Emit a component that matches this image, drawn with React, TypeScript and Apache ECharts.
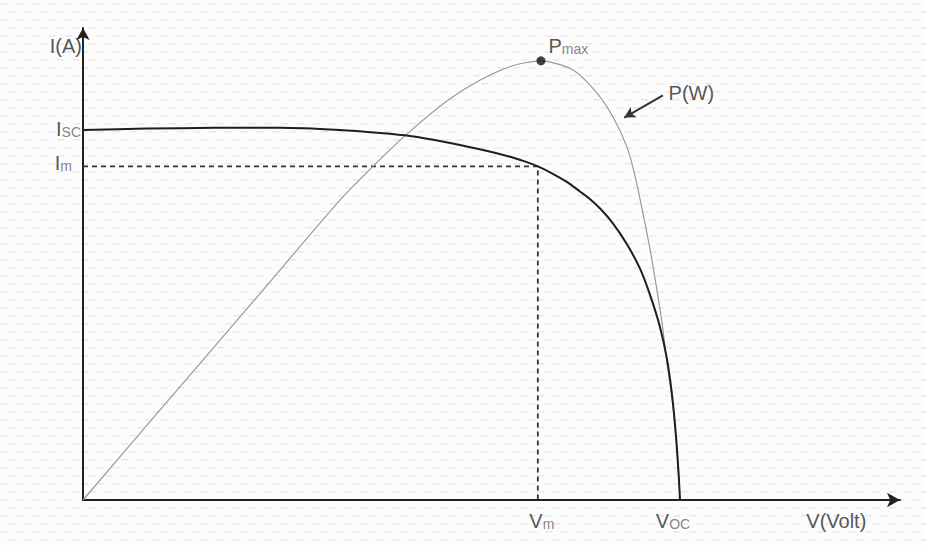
import React, { useEffect, useRef } from "react";
import * as echarts from "echarts";

// I-V curve (volt, ampere)
const ivVoltage = [0, 2.25, 4.64, 6.93, 9.04, 10.45, 11.5, 12.73, 13.96, 15.02, 15.51, 16.0, 16.43, 17.02, 17.48, 17.83, 18.19, 18.64, 19.13, 19.59, 19.94, 20.29, 20.54, 20.72, 20.86, 20.96, 21.0];
const ivCurrent = [5.0, 5.02, 5.03, 5.03, 5.0, 4.96, 4.92, 4.84, 4.74, 4.64, 4.58, 4.51, 4.43, 4.3, 4.17, 4.07, 3.94, 3.74, 3.46, 3.13, 2.78, 2.35, 1.91, 1.42, 0.86, 0.3, 0];

// P-V curve (volt, watt)
const pvVoltage = [0, 2.71, 5.98, 9.04, 10.45, 11.5, 12.8, 13.96, 15.12, 16.11, 17.24, 18.08, 18.64, 19.13, 19.35, 19.59, 19.94, 20.19, 20.37, 20.54, 20.72, 20.86, 20.96, 21.0];
const pvPower = [0, 14.8, 32.6, 49.3, 56.0, 60.6, 65.6, 69.0, 71.4, 72.2, 70.7, 66.9, 63.0, 58.1, 54.6, 49.6, 41.4, 34.5, 29.1, 22.6, 16.8, 10.4, 3.9, 0];

// key points
const isc = 5.0;
const im = 4.51;
const vm = 16.0;
const voc = 21.0;
const pmaxPoint = [16.11, 72.2];

// axis extents
const vMax = 28.74;
const iMax = 6.38;
const pMax = 77.6;

const FONT = "Liberation Sans, Arial, sans-serif";

const bgSvg =
  "<svg xmlns='http://www.w3.org/2000/svg' width='16' height='16'>" +
  "<rect width='16' height='16' fill='#fcfcfc'/>" +
  "<rect x='1' y='3' width='7' height='1.5' fill='#e8e8e8'/>" +
  "<rect x='9' y='11' width='7' height='1.5' fill='#e8e8e8'/>" +
  "</svg>";
const bgUrl = `url("data:image/svg+xml,${encodeURIComponent(bgSvg)}")`;

export default function App() {
  const ref = useRef<HTMLDivElement>(null);

  useEffect(() => {
    if (!ref.current) return;
    const chart = echarts.init(ref.current, undefined, { renderer: "svg" });

    const rich = {
      m: { fontSize: 20, fontFamily: FONT, color: "#2a2a2a" },
      s: { fontSize: 14, fontFamily: FONT, color: "#666", verticalAlign: "bottom" as const },
    };

    const ivData = ivVoltage.map((v, i) => [v, ivCurrent[i]]);
    const pvData = pvVoltage.map((v, i) => [v, pvPower[i]]);

    const annotations = [
      { value: [0, 6.14], label: { formatter: "{m|I(A)}", position: "left", distance: 1 } },
      { value: [0, isc], label: { formatter: "{m|I}{s|SC}", position: "left", distance: 2, offset: [0, -1] } },
      { value: [0, im], label: { formatter: "{m|I}{s|m}", position: "left", distance: 11, offset: [0, -3] } },
      { value: [vm, 0], label: { formatter: "{m|V}{s|m}", position: "bottom", distance: 11, offset: [4, 0] } },
      { value: [voc, 0], label: { formatter: "{m|V}{s|OC}", position: "bottom", distance: 11, offset: [-7, 0] } },
      { value: [26.5, 0], label: { formatter: "{m|V(Volt)}", position: "bottom", distance: 11 } },
      { value: [20.6, 5.47], label: { formatter: "{m|P(W)}", position: "right", distance: 0, offset: [0, -2] } },
    ];

    chart.setOption({
      animation: false,
      backgroundColor: "transparent",
      grid: { left: 83, right: 26, top: 28, bottom: 45 },
      xAxis: {
        type: "value",
        min: 0,
        max: vMax,
        axisLine: {
          show: true,
          symbol: ["none", "arrow"],
          symbolSize: [11, 13],
          lineStyle: { color: "#222", width: 2 },
        },
        axisTick: { show: false },
        axisLabel: { show: false },
        splitLine: { show: false },
      },
      yAxis: [
        {
          type: "value",
          min: 0,
          max: iMax,
          axisLine: {
            show: true,
            symbol: ["none", "arrow"],
            symbolSize: [10, 12],
            lineStyle: { color: "#222", width: 2 },
          },
          axisTick: { show: false },
          axisLabel: { show: false },
          splitLine: { show: false },
        },
        {
          type: "value",
          min: 0,
          max: pMax,
          show: false,
          splitLine: { show: false },
        },
      ],
      series: [
        {
          name: "P(W)",
          type: "line",
          yAxisIndex: 1,
          data: pvData,
          smooth: 0.25,
          symbol: "none",
          lineStyle: { color: "#9a9a9a", width: 1.2 },
          z: 2,
        },
        {
          name: "I(A)",
          type: "line",
          yAxisIndex: 0,
          data: ivData,
          smooth: 0.25,
          symbol: "none",
          lineStyle: { color: "#1e1e1e", width: 2 },
          z: 3,
          markLine: {
            silent: true,
            symbol: ["none", "arrow"],
            symbolSize: [9, 11],
            label: { show: false },
            lineStyle: { color: "#333", width: 2, type: "solid" },
            data: [[{ coord: [20.4, 5.47] }, { coord: [19.04, 5.17] }]],
          },
        },
        {
          name: "guides",
          type: "line",
          yAxisIndex: 0,
          data: [[0, im], [vm, im], [vm, 0]],
          symbol: "none",
          lineStyle: { color: "#333", width: 1.8, type: [5, 4] },
          z: 1,
        },
        {
          name: "Pmax",
          type: "scatter",
          yAxisIndex: 1,
          data: [pmaxPoint],
          symbol: "circle",
          symbolSize: 9,
          itemStyle: { color: "#111" },
          label: {
            show: true,
            formatter: "{m|P}{s|max}",
            position: "right",
            distance: 3,
            offset: [0, -15],
            rich,
          },
          z: 4,
        },
        {
          name: "annotations",
          type: "scatter",
          yAxisIndex: 0,
          symbolSize: 0,
          silent: true,
          data: annotations,
          label: { show: true, rich },
          z: 5,
        },
      ],
    });

    return () => chart.dispose();
  }, []);

  return (
    <div
      style={{
        position: "fixed",
        left: 0,
        top: 0,
        width: 926,
        height: 545,
        backgroundImage: bgUrl,
        backgroundColor: "#fcfcfc",
      }}
    >
      <div ref={ref} style={{ width: 926, height: 545 }} />
    </div>
  );
}
